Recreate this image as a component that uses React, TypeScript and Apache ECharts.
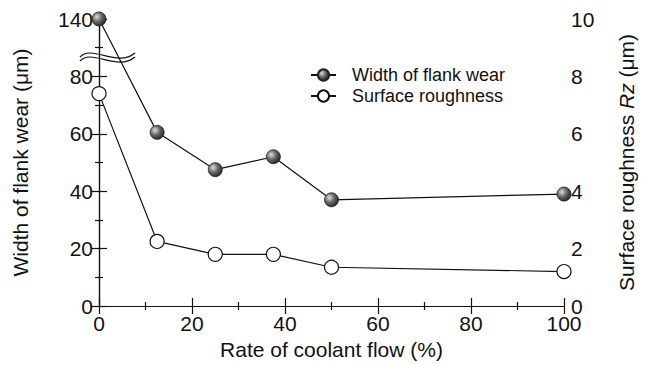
import React, { useEffect, useRef } from 'react';
import * as echarts from 'echarts';

const coolantRate = [0, 12.5, 25, 37.5, 50, 100];
const flankWear = [140, 60.5, 47.5, 52, 37, 39];
const roughness = [7.4, 2.25, 1.8, 1.8, 1.35, 1.2];
// axis break: values above 80 are shifted down by this amount on the left axis
const BREAK_SHIFT = 40;
const toAxis = (v: number) => (v > 80 ? v - BREAK_SHIFT : v);
const fromAxis = (v: number) => (v > 80 ? v + BREAK_SHIFT : v);

const FONT = '"Liberation Sans", Arial, Helvetica, sans-serif';

export default function App() {
  const ref = useRef<HTMLDivElement>(null);
  useEffect(() => {
    if (!ref.current) return;
    const chart = echarts.init(ref.current, null, { renderer: 'svg' });
    const sphere = new echarts.graphic.RadialGradient(0.35, 0.35, 0.75, [
      { offset: 0, color: '#e0e0e0' },
      { offset: 0.45, color: '#6a6a6a' },
      { offset: 1, color: '#1a1a1a' },
    ]);
    const labelStyle = { color: '#111', fontSize: 21, fontFamily: FONT };
    const tickBase = { show: true, inside: true, length: 8, lineStyle: { color: '#111', width: 1.2 } };
    const minorBase = { show: true, splitNumber: 2, length: 4, lineStyle: { color: '#111', width: 1.2 } };
    const lineBase = { show: true, lineStyle: { color: '#111', width: 1.2 } };
    chart.setOption({
      animation: false,
      backgroundColor: '#fff',
      textStyle: { fontFamily: FONT },
      grid: { left: 99, right: 80, top: 19, bottom: 58, containLabel: false },
      legend: {
        orient: 'vertical',
        left: 305,
        top: 61,
        itemWidth: 25,
        itemHeight: 14,
        itemGap: 3,
        textStyle: { fontSize: 18, color: '#111', fontFamily: FONT, padding: [0, 0, 0, 11] },
        data: ['Width of flank wear', 'Surface roughness'],
      },
      xAxis: [
        {
          type: 'value', min: 0, max: 100, interval: 20, position: 'bottom',
          name: 'Rate of coolant flow (%)', nameLocation: 'middle', nameGap: 33,
          nameTextStyle: { ...labelStyle },
          axisLine: lineBase, axisTick: tickBase, minorTick: minorBase,
          axisLabel: { ...labelStyle, margin: 7 },
          splitLine: { show: false },
        },
        {
          type: 'value', min: 0, max: 100, interval: 20, position: 'top',
          axisLine: lineBase, axisTick: tickBase, minorTick: minorBase,
          axisLabel: { show: false }, splitLine: { show: false },
        },
      ],
      yAxis: [
        {
          type: 'value', min: 0, max: toAxis(140), interval: 20, position: 'left',
          name: 'Width of flank wear (μm)', nameLocation: 'middle', nameGap: 68, nameRotate: 90,
          nameTextStyle: { ...labelStyle },
          axisLine: lineBase, axisTick: tickBase, minorTick: minorBase,
          axisLabel: { ...labelStyle, margin: 6, formatter: (v: number) => String(fromAxis(v)) },
          splitLine: { show: false },
        },
        {
          type: 'value', min: 0, max: 10, interval: 2, position: 'right',
          name: 'Surface roughness {i|Rz} (μm)', nameLocation: 'middle', nameGap: 52, nameRotate: 90,
          nameTextStyle: { ...labelStyle, rich: { i: { ...labelStyle, fontStyle: 'italic' } } },
          axisLine: lineBase, axisTick: tickBase, minorTick: minorBase,
          axisLabel: { ...labelStyle, margin: 7 },
          splitLine: { show: false },
        },
      ],
      series: [
        {
          name: 'Width of flank wear', type: 'line', xAxisIndex: 0, yAxisIndex: 0,
          data: coolantRate.map((x, i) => [x, toAxis(flankWear[i])]),
          symbol: 'circle', symbolSize: 14,
          lineStyle: { color: '#111', width: 1.2 },
          itemStyle: { color: sphere, borderColor: '#222', borderWidth: 0.8 },
          z: 3,
        },
        {
          name: 'Surface roughness', type: 'line', xAxisIndex: 0, yAxisIndex: 1,
          data: coolantRate.map((x, i) => [x, roughness[i]]),
          symbol: 'circle', symbolSize: 14,
          lineStyle: { color: '#111', width: 1.2 },
          itemStyle: { color: '#fff', borderColor: '#111', borderWidth: 1.2 },
          z: 3,
        },
      ],
      graphic: [
        {
          type: 'bezierCurve', z: 10,
          shape: { x1: 80, y1: 57, cpx1: 92, cpy1: 44, cpx2: 117, cpy2: 68, x2: 135, y2: 53 },
          style: { stroke: '#111', lineWidth: 1.2, fill: null },
        },
        {
          type: 'bezierCurve', z: 10,
          shape: { x1: 80, y1: 61, cpx1: 92, cpy1: 48, cpx2: 117, cpy2: 72, x2: 135, y2: 57 },
          style: { stroke: '#111', lineWidth: 1.2, fill: null },
        },
      ],
    });
    return () => chart.dispose();
  }, []);
  return <div ref={ref} style={{ position: 'fixed', left: 0, top: 0, width: 645, height: 365 }} />;
}
